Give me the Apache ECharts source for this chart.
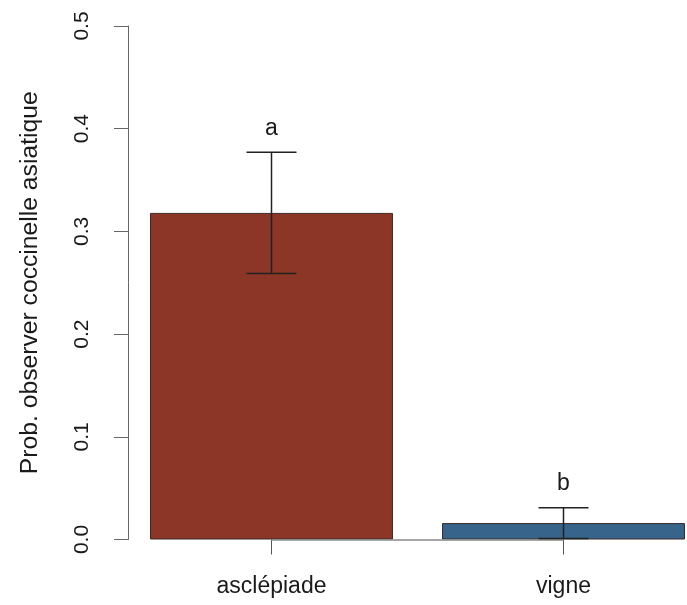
<!DOCTYPE html>
<html><head><meta charset="utf-8">
<script src="https://cdn.jsdelivr.net/npm/echarts@6/dist/echarts.min.js"></script>
<style>html,body{margin:0;padding:0;background:#fff}#c{width:687px;height:605px}</style>
</head><body><div id="c"></div>
<script>
const categories = ['asclépiade', 'vigne'];
const means = [0.318, 0.016];
const lower = [0.259, 0.001];
const upper = [0.377, 0.031];
const letters = ['a', 'b'];
const barColors = ['#8B3626', '#36648B'];
const yName = 'Prob. observer coccinelle asiatique';
const yMin = 0, yMax = 0.5, yStep = 0.1;

const FONT = '"Liberation Sans", Arial, Helvetica, sans-serif';
const chart = echarts.init(document.getElementById('c'), null, {renderer: 'canvas'});
chart.setOption({
  animation: false,
  backgroundColor: '#fff',
  grid: {left: 125.5, right: -22.5, top: 26, bottom: 65.5, containLabel: false, outerBoundsMode: 'none'},
  xAxis: {
    type: 'category', data: categories,
    axisLine: {show: false},
    axisTick: {show: true, alignWithLabel: true, length: 15, lineStyle: {color: '#555', width: 1}},
    axisLabel: {fontSize: 23, color: '#1a1a1a', margin: 36, fontFamily: FONT}
  },
  yAxis: {
    type: 'value', min: yMin, max: yMax, interval: yStep, offset: -2.5,
    name: yName, nameLocation: 'middle', nameRotate: 90, nameGap: 85,
    nameTextStyle: {fontSize: 24.7, color: '#1a1a1a', fontFamily: FONT},
    axisLine: {show: true, lineStyle: {color: '#666', width: 1}},
    axisTick: {show: true, length: 14, lineStyle: {color: '#666', width: 1}},
    splitLine: {show: false},
    axisLabel: {rotate: 90, fontSize: 21, color: '#1a1a1a', margin: 35, fontFamily: FONT,
      formatter: v => v.toFixed(1)}
  },
  series: [
    {
      type: 'bar', barWidth: '83.2%',
      data: means.map((v, i) => ({value: v, itemStyle: {color: barColors[i]}})),
      itemStyle: {borderColor: '#3a2b27', borderWidth: 1},
      markLine: {
        silent: true, symbol: 'none', label: {show: false},
        lineStyle: {color: '#888', width: 1.5, type: 'solid'},
        data: [[{coord: [0, 0]}, {coord: [1, 0]}]]
      }
    },
    {
      type: 'custom', z: 5,
      encode: {x: 0, y: [1, 2]},
      data: categories.map((c, i) => [i, lower[i], upper[i]]),
      renderItem: function (params, api) {
        const i = api.value(0);
        const lo = api.coord([i, api.value(1)]);
        const hi = api.coord([i, api.value(2)]);
        const half = 25;
        const st = {stroke: '#222', lineWidth: 1.5};
        return {
          type: 'group',
          children: [
            {type: 'line', shape: {x1: lo[0], y1: lo[1], x2: hi[0], y2: hi[1]}, style: st},
            {type: 'line', shape: {x1: hi[0] - half, y1: hi[1], x2: hi[0] + half, y2: hi[1]}, style: st},
            {type: 'line', shape: {x1: lo[0] - half, y1: lo[1], x2: lo[0] + half, y2: lo[1]}, style: st},
            {type: 'text', style: {text: letters[i], x: hi[0], y: hi[1] - 24, align: 'center',
              verticalAlign: 'middle', fontSize: 23, fill: '#1a1a1a', fontFamily: FONT}}
          ]
        };
      }
    }
  ]
});
</script>
</body></html>
